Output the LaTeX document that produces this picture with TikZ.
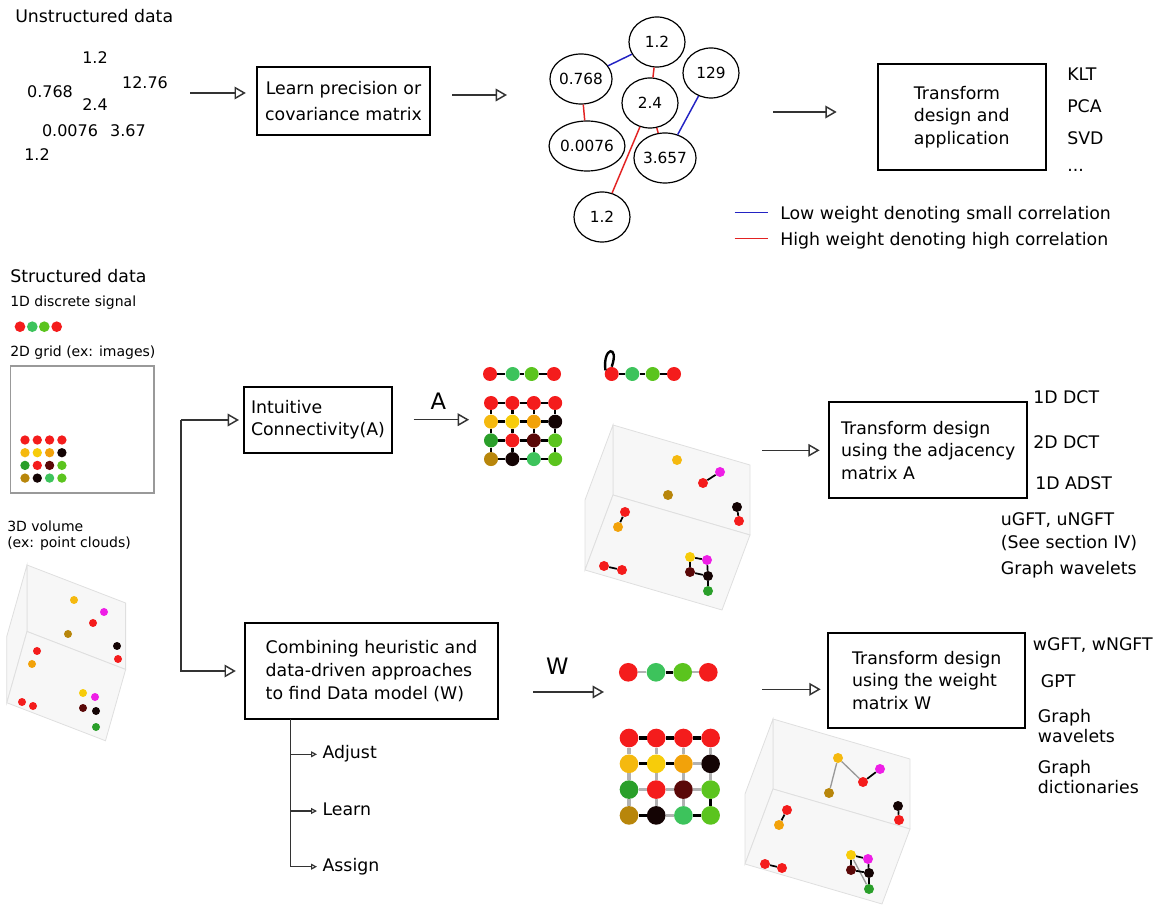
\documentclass[tikz,border=0pt]{standalone}
\usepackage{fontspec}
\setmainfont{DejaVu Sans}
\usetikzlibrary{arrows.meta,shapes.geometric,positioning}
\definecolor{pred}{HTML}{F41C1C}
\definecolor{pgreen}{HTML}{3DC35C}
\definecolor{lgreen}{HTML}{5BC41E}
\definecolor{dgreen}{HTML}{2A9F2A}
\definecolor{gold}{HTML}{F5B90F}
\definecolor{yel}{HTML}{F7CC0A}
\definecolor{orng}{HTML}{F2A20A}
\definecolor{blk}{HTML}{140404}
\definecolor{dkred}{HTML}{5A0808}
\definecolor{brwn}{HTML}{B8860B}
\definecolor{mag}{HTML}{EE1EE6}
\definecolor{wblue}{HTML}{2323C3}
\definecolor{wred}{HTML}{E22222}

\begin{document}
\begin{tikzpicture}[x=0.75pt,y=-0.75pt,
    lbl/.style={inner sep=0pt,anchor=base west,font=\fontsize{13}{16}\selectfont},
    sml/.style={lbl,font=\fontsize{10.5}{12}\selectfont},
    num/.style={inner sep=0pt,font=\fontsize{12}{14}\selectfont},
    box/.style={draw,line width=1.5pt,align=left,inner sep=0pt,font=\fontsize{13}{17}\selectfont},
    arr/.style={draw=black!80,line width=1.1pt,-{Triangle[open,length=8.5pt,width=9.5pt]}},
    arrs/.style={draw=black!80,line width=0.9pt,-{Triangle[open,length=4.5pt,width=4.5pt]}},
    ell/.style={ellipse,draw,line width=0.9pt,minimum width=42pt,minimum height=37.5pt,inner sep=0pt,font=\fontsize{11.5}{14}\selectfont},
    vtx/.style={circle,fill=#1,inner sep=0pt},
    hvy/.style={line width=1.8pt,black},
    lgt/.style={line width=1.8pt,black!30},
    pane/.style={fill=gray!6,draw=gray!25,line width=0.6pt}]
    \useasboundingbox (0,0) rectangle (1165,905);
    \def\cube#1{
    \begin{scope}[#1]
    \path[pane] (0,0) -- (137,40) -- (137,110) -- (0,70) -- cycle;
    \path[pane] (0,0) -- (0,70) -- (-28,145) -- (-28,75) -- cycle;
    \path[pane] (0,70) -- (137,110) -- (109,185) -- (-28,145) -- cycle;
    \end{scope}
    }
    \def\dotgrid#1#2#3#4#5#6{
    \foreach \c [count=\i from 0] in {pred,pred,pred,pred,gold,yel,orng,blk,dgreen,pred,dkred,lgreen,brwn,blk,pgreen,lgreen}
    {
    \pgfmathtruncatemacro\rw{\i/4}
    \pgfmathtruncatemacro\cl{\i-4*\rw}
    \node[vtx=\c,minimum size=#6] (#1\rw\cl) at ({#2+\cl*#4},{#3+\rw*#5}) {};
    }
    }
    % unstructured data
    \node[lbl] (unst) at (15,23) {Unstructured data};
    \foreach \n/\v/\x/\y in {u1/1.2/95/58,u2/0.768/50/92,u3/12.76/145/83,u4/2.4/95/105,u5/0.0076/70/131,u6/3.67/128/131,u7/1.2/37/155}
    \node[num] (\n) at (\x,\y) {\v};
    \coordinate (s1) at (190,93);
    \node[box,align=center,minimum width=130pt,minimum height=51pt,font=\fontsize{13}{19}\selectfont] (learn) at (343.5,101) {Learn precision or\\covariance matrix};
    \draw[arr,shorten >=7.5pt] (s1) -- (s1 -| learn.west);
    \coordinate (s2) at (452,95);
    \coordinate (s2e) at (507,95);
    \draw[arr] (s2) -- (s2e);
    \foreach \n/\v/\x/\y in {e1/1.2/657/42,e2/0.768/581/79,e3/129/711/73,e4/2.4/650/103,e5/0.0076/587/146,e6/3.657/665/158,e7/1.2/602/217}
    \node[ell] (\n) at (\x,\y) {\v};
    \draw[wblue,line width=1.1pt] (e2) -- (e1);
    \draw[wblue,line width=1.1pt] (e3) -- (e6);
    \foreach \a/\b in {e1/e4,e2/e5,e4/e6,e4/e7}
    \draw[wred,line width=1.1pt] (\a) -- (\b);
    \coordinate (s3) at (773,112);
    \node[box,minimum width=126pt,minimum height=80pt] (tda) at (961.7,117) {Transform\\design and\\application};
    \draw[arr,shorten >=30pt] (s3) -- (s3 -| tda.west);
    \foreach \n/\t/\y in {klt/KLT/81,pca/PCA/113,svd/SVD/145}
    \node[lbl] (\n) at (1067,\y) {\t};
    \node[lbl] (etc) at (1067,172) {...};
    \node[lbl] (low) at (780,220) {Low weight denoting small correlation};
    \node[lbl] (high) at (780,246) {High weight denoting high correlation};
    \draw[wblue,line width=1pt] ([xshift=-34pt,yshift=2pt]low.west) -- ([xshift=-9pt,yshift=2pt]low.west);
    \draw[wred,line width=1pt] ([xshift=-34pt,yshift=2pt]high.west) -- ([xshift=-9pt,yshift=2pt]high.west);
    % structured data
    \node[lbl] (st) at (10,283) {Structured data};
    \node[sml] (sig) at (10,307) {1D discrete signal};
    \foreach \n/\c/\x in {d0/pred/20,d1/pgreen/32.3,d2/lgreen/44.3,d3/pred/56.7}
    \node[vtx=\c,minimum size=8pt] (\n) at (\x,326.7) {};
    \node[sml] (img) at (10,357) {2D grid (ex: images)};
    \draw[gray!80,line width=0.8pt] (10.7,366) rectangle (154,493);
    \dotgrid{s}{25}{440}{12.3}{12.7}{7pt}
    \node[sml,anchor=north west,align=left] (vol) at (7,521) {3D volume\\(ex: point clouds)};
    \cube{shift={(27,565)},xscale=0.72,yscale=0.95}
    \foreach \n/\c/\x/\y in {a/gold/74/600,b/mag/104/612,c/pred/93/623,d/brwn/68/634,e/blk/117/646,f/pred/118/659,g/pred/37/651,h/orng/32/664,i/pred/22/702,j/pred/33/706,k/yel/83/693,l/mag/95/697,m/dkred/83/708,n/blk/96/711,o/dgreen/96/727}
    \node[vtx=\c,minimum size=6pt] (k0\n) at (\x,\y) {};
    % intuitive connectivity
    \coordinate (br) at (181,420);
    \node[box,minimum width=111pt,minimum height=49.5pt] (intuit) at (318,419.7) {Intuitive\\Connectivity(A)};
    \node[box,minimum width=190pt,minimum height=72.5pt] (comb) at (371.5,671) { Combining heuristic and\\data-driven approaches\\to find Data model (W)};
    \draw[arr,shorten >=3pt] (br) -- (br -| intuit.west);
    \draw[arr,shorten >=6pt] (br) |- (comb.west);
    \coordinate (cb) at (290.7,719.3);
    \foreach \n/\t/\y in {adj/Adjust/754.3,lrn/Learn/811,asg/Assign/866.7}
    \node[lbl,anchor=west,text height=7pt,text depth=0pt,inner xsep=4pt] (\n) at (317,\y) {\t};
    \draw[line width=0.9pt,black!80] (cb) -- (cb |- lrn);
    \draw[arrs] (cb |- adj) -- (adj.west);
    \draw[arrs] (cb |- lrn) -- (lrn.west);
    \draw[arrs] (cb) |- (asg.west);
    % graphs with adjacency A
    \foreach \n/\c/\x in {p0/pred/490,p1/pgreen/512.7,p2/lgreen/531.7,p3/pred/554}
    \node[vtx=\c,minimum size=10.5pt] (\n) at (\x,374) {};
    \foreach \a/\b in {p0/p1,p1/p2,p2/p3}
    \draw[hvy] (\a) -- (\b);
    \dotgrid{a}{491}{403}{21.4}{18.7}{10.5pt}
    \foreach \rw in {0,...,3}
    {
    \foreach \cl/\nx in {0/1,1/2,2/3}
    {
    \draw[hvy] (a\rw\cl) -- (a\rw\nx);
    \draw[hvy] (a\cl\rw) -- (a\nx\rw);
    }
    }
    \foreach \n/\c/\x in {q0/pred/611.7,q1/pgreen/632.3,q2/lgreen/652.7,q3/pred/674}
    \node[vtx=\c,minimum size=10.5pt] (\n) at (\x,374) {};
    \foreach \a/\b in {q0/q1,q1/q2,q2/q3}
    \draw[hvy] (\a) -- (\b);
    \draw[hvy] (q0.150) .. controls +(-3,-24) and +(8,-22) .. (q0.90);
    \draw[arr,shorten <=15.5pt,shorten >=11pt] (intuit.east) -- (intuit.east -| a10.west) node[midway,above=4pt,font=\fontsize{17}{17}\selectfont] (lblA) {A};
    \cube{shift={(613,425)}}
    \foreach \n/\c/\x/\y in {a/gold/677/460,b/mag/720/472,c/pred/703/483,d/brwn/668/495,e/blk/737/507,f/pred/739/521,g/pred/625/512,h/orng/618/527,i/pred/604/566,j/pred/622/570,k/yel/690/557,l/mag/707/560,m/dkred/690/572,n/blk/708/576,o/dgreen/708/591}
    \node[vtx=\c,minimum size=7.5pt] (k1\n) at (\x,\y) {};
    \foreach \a/\b in {b/c,e/f,g/h,i/j,k/l,k/m,m/n,l/n,n/o}
    \draw[line width=1.3pt,black] (k1\a) -- (k1\b);
    \coordinate (pA) at (762,450.3);
    \node[box,minimum width=148.5pt,minimum height=72pt] (tdA) at (928.3,450.3) {Transform design\\using the adjacency\\matrix A};
    \draw[arr,shorten >=6.5pt] (pA) -- (tdA.west);
    \foreach \n/\t/\x/\y in {dct1/1D DCT/1033/404,dct2/2D DCT/1033/449,adst/1D ADST/1035/490,ugft/{uGFT, uNGFT}/1000.7/526,sec/{(See section IV)}/1000.7/549,gwa/Graph wavelets/1000.7/575}
    \node[lbl] (\n) at (\x,\y) {\t};
    % graphs with weights W
    \coordinate (wS) at (533,692);
    \coordinate (wE) at (604,692);
    \draw[arr] (wS) -- (wE);
    \node[font=\fontsize{17}{17}\selectfont,inner sep=0pt] (lblW) at (557.3,666.7) {W};
    \foreach \n/\c/\x in {v0/pred/628.3,v1/pgreen/656,v2/lgreen/682.7,v3/pred/708.3}
    \node[vtx=\c,minimum size=14pt] (\n) at (\x,672.3) {};
    \draw[lgt] (v0) -- (v1);
    \draw[hvy,line width=2.5pt] (v1) -- (v2);
    \draw[lgt] (v2) -- (v3);
    \dotgrid{w}{629}{738}{27.2}{25.8}{14pt}
    \foreach \a/\b/\s in {00/01/hvy,01/02/hvy,02/03/hvy,10/11/hvy,11/12/hvy,12/13/lgt,20/21/lgt,21/22/lgt,22/23/lgt,30/31/hvy,31/32/lgt,32/33/hvy,00/10/lgt,10/20/lgt,20/30/lgt,01/11/lgt,11/21/lgt,21/31/lgt,02/12/lgt,12/22/lgt,22/32/lgt,03/13/lgt,13/23/lgt,23/33/hvy}
    \draw[\s,line width=2.5pt] (w\a) -- (w\b);
    \cube{shift={(773,719)}}
    \foreach \n/\c/\x/\y in {a/gold/838/758,b/mag/880/769,c/pred/863/782,d/brwn/829/793,e/blk/898/806,f/pred/899/820,g/pred/787/810,h/orng/779/825,i/pred/765/864,j/pred/782/868,k/yel/851/855,l/mag/868/859,m/dkred/851/870,n/blk/869/873,o/dgreen/869/889}
    \node[vtx=\c,minimum size=7.5pt] (k2\n) at (\x,\y) {};
    \foreach \a/\b in {a/d,a/c,k/o}
    \draw[line width=1pt,black!40] (k2\a) -- (k2\b);
    \foreach \a/\b in {c/b,e/f,g/h,i/j,k/l,k/m,m/n,l/n,n/o}
    \draw[line width=1.3pt,black] (k2\a) -- (k2\b);
    \coordinate (pW) at (762,689.3);
    \node[box,minimum width=147.5pt,minimum height=71.7pt] (tdW) at (926.7,680.5) {Transform design\\using the weight\\matrix W};
    \draw[arr,shorten >=5pt] (pW) -- (pW -| tdW.west);
    \node[lbl] (wgft) at (1032.7,651) {wGFT, wNGFT};
    \node[lbl] (gpt) at (1040.7,687.3) {GPT};
    \node[lbl,anchor=north west,align=left,font=\fontsize{13}{15}\selectfont] (gwv) at (1037.7,709) {Graph\\wavelets};
    \node[lbl,anchor=north west,align=left,font=\fontsize{13}{15}\selectfont] (gdc) at (1037.7,760.5) {Graph\\dictionaries};
\end{tikzpicture}
\end{document}
